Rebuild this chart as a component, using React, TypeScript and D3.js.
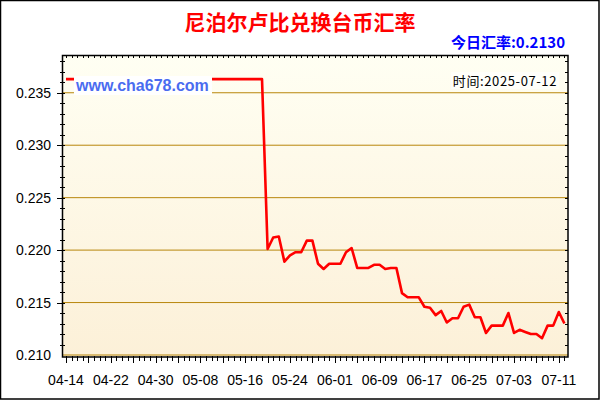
import React from "react";
import * as d3 from "d3";

const TITLE = "尼泊尔卢比兑换台币汇率";
const TODAY_LABEL = "今日汇率:0.2130";
const TIME_LABEL = "时间:2025-07-12";
const WATERMARK = "www.cha678.com";

const START_DATE = "2025-04-14";
const rates: number[] = [
  0.2363, 0.2363, 0.2363, 0.2363, 0.2363, 0.2363, 0.2363, 0.2363, 0.2363, 0.2363,
  0.2363, 0.2363, 0.2363, 0.2363, 0.2363, 0.2363, 0.2363, 0.2363, 0.2363, 0.2363,
  0.2363, 0.2363, 0.2363, 0.2363, 0.2363, 0.2363, 0.2363, 0.2363, 0.2363, 0.2363,
  0.2363, 0.2363, 0.2363, 0.2363, 0.2363, 0.2363,
  0.2201, 0.2212, 0.2213, 0.2189, 0.2195, 0.2198, 0.2198, 0.2209, 0.2209, 0.2187,
  0.2182, 0.2187, 0.2187, 0.2187, 0.2198, 0.2202, 0.2183, 0.2183, 0.2183, 0.2186,
  0.2186, 0.2182, 0.2183, 0.2183, 0.2159, 0.2155, 0.2155, 0.2155, 0.2146, 0.2145,
  0.2138, 0.2142, 0.2131, 0.2135, 0.2135, 0.2146, 0.2148, 0.2136, 0.2136, 0.2121,
  0.2128, 0.2128, 0.2128, 0.2140, 0.2121, 0.2124, 0.2122, 0.2120, 0.2120, 0.2116,
  0.2128, 0.2128, 0.2141, 0.2130,
];
const yMajorTicks = [0.21, 0.215, 0.22, 0.225, 0.23, 0.235];
const Y_DOMAIN = [0.21, 0.2386];

const W = 600;
const H = 400;
const PL = 63;
const PR = 568;
const PT = 55;
const PB = 355;

const DAY = 864e5;
const start = new Date(START_DATE + "T00:00:00Z");
const dates = rates.map((_, i) => d3.utcDay.offset(start, i));

export default function App() {
  const x = d3
    .scaleUtc()
    .domain([new Date(+start - 0.536 * DAY), new Date(+dates[dates.length - 1] + 0.64 * DAY)])
    .range([PL, PR]);
  const y = d3.scaleLinear().domain(Y_DOMAIN).range([PB, PT]);

  const line = d3
    .line<number>()
    .x((_, i) => x(dates[i]))
    .y((d) => y(d));

  const allDays = d3.utcDay.range(start, new Date(+dates[dates.length - 1] + DAY));
  const fmt = d3.utcFormat("%m-%d");
  const minorY = d3.range(211, 239).map((v) => v / 1000);

  const lab = "'Liberation Sans', Arial, sans-serif";
  const cjk = "'Noto Sans CJK SC', sans-serif";

  return (
    <svg width={W} height={H} style={{ position: "absolute", left: 0, top: 0, display: "block", background: "#fff" }}>
      <defs>
        <linearGradient id="bg" x1="0" y1="0" x2="0" y2="1">
          <stop offset="0%" stopColor="#FFFFF3" />
          <stop offset="100%" stopColor="#FCF0D8" />
        </linearGradient>
      </defs>
      <rect x={0.5} y={0.5} width={598.5} height={398.5} fill="#fff" stroke="#000" strokeWidth={1.5} />
      <text x={300} y={30} textAnchor="middle" fontFamily={cjk} fontWeight="bold" fontSize={21} fill="#FF0000">
        {TITLE}
      </text>
      <text x={565} y={48} textAnchor="end" fontFamily={cjk} fontWeight="bold" fontSize={15} fill="#0000FF">
        {TODAY_LABEL}
      </text>
      <rect x={PL} y={PT} width={PR - PL} height={PB - PT + 1} fill="url(#bg)" />
      {yMajorTicks.map((t) => (
        <line key={"g" + t} x1={PL} x2={PR} y1={y(t)} y2={y(t)} stroke="#B8860B" strokeWidth={1} />
      ))}
      <path d={line(rates) || ""} fill="none" stroke="#FF0000" strokeWidth={2.6} strokeLinejoin="round" />
      <rect x={74} y={76} width={138} height={19} fill="#fff" />
      <text x={76} y={91} fontFamily={lab} fontWeight="bold" fontSize={16} fill="#4A6CF0">
        {WATERMARK}
      </text>
      <rect x={451} y={72} width={108} height={17} fill="#FFFFFA" />
      <text x={557} y={86} textAnchor="end" fontFamily={cjk} fontSize={13} letterSpacing={0.6} fill="#000">
        {TIME_LABEL}
      </text>
      {/* frame */}
      <rect x={PL - 0.5} y={PT + 0.5} width={PR - PL + 0.5} height={PB - PT + 1.5} fill="none" stroke="#000" strokeWidth={1.5} />
      {minorY.map((t) => {
        const major = yMajorTicks.some((m) => Math.abs(m - t) < 1e-9);
        return (
          <g key={"ly" + t}>
            <line x1={major ? 57 : 60} x2={65} y1={Math.round(y(t)) + 0.5} y2={Math.round(y(t)) + 0.5} stroke="#000" />
            <line x1={PR - 3} x2={PR} y1={Math.round(y(t)) + 0.5} y2={Math.round(y(t)) + 0.5} stroke="#000" />
          </g>
        );
      })}
      {yMajorTicks.map((t) => (
        <text key={"yl" + t} x={51} y={y(t) + 5} textAnchor="end" fontFamily={lab} fontSize={14} fill="#000">
          {d3.format(".3f")(t)}
        </text>
      ))}
      {allDays.map((d, i) => {
        const xx = Math.round(x(d)) + 0.5;
        const major = i % 4 === 0;
        return (
          <g key={"xt" + i}>
            <line x1={xx} x2={xx} y1={PB + 1} y2={PB + (major ? 8 : 6)} stroke="#000" />
            <line x1={xx} x2={xx} y1={PT} y2={PT + 3} stroke="#000" />
          </g>
        );
      })}
      {allDays
        .filter((_, i) => i % 8 === 0)
        .map((d, i) => (
          <text key={"xl" + i} x={x(d)} y={385} textAnchor="middle" fontFamily={lab} fontSize={14} fill="#000">
            {fmt(d)}
          </text>
        ))}
    </svg>
  );
}
